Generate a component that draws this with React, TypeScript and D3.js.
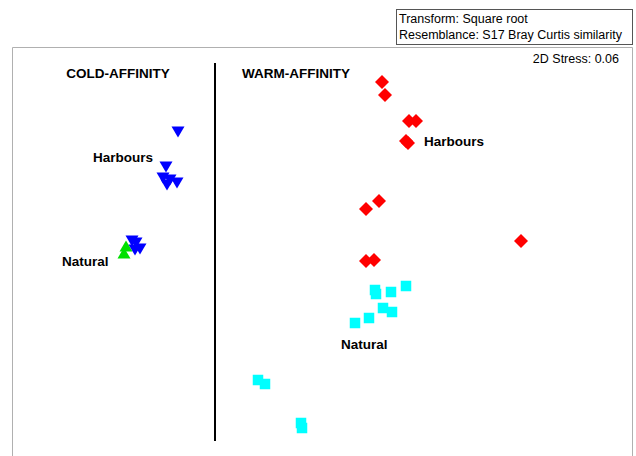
import React from "react";
import * as d3 from "d3";

// MDS coordinates
const coldHarbours: [number, number][] = [
  [-1.42, 1.18], [-1.54, 0.83], [-1.57, 0.72], [-1.5, 0.7], [-1.53, 0.65], [-1.43, 0.67],
];
const coldNaturalBlue: [number, number][] = [
  [-1.88, 0.09], [-1.84, 0.07], [-1.8, 0.01], [-1.85, 0.0],
];
const coldNaturalGreen: [number, number][] = [
  [-1.94, 0.04], [-1.96, -0.03],
];
const warmHarbours: [number, number][] = [
  [0.62, 1.68], [0.65, 1.55], [0.89, 1.29], [0.96, 1.29], [0.86, 1.09], [0.88, 1.07],
  [0.59, 0.49], [0.46, 0.41], [2.01, 0.09], [0.46, -0.11], [0.54, -0.1],
];
const warmNatural: [number, number][] = [
  [0.55, -0.4], [0.56, -0.44], [0.71, -0.42], [0.86, -0.36], [0.63, -0.58], [0.72, -0.62],
  [0.49, -0.68], [0.35, -0.73], [-0.62, -1.3], [-0.55, -1.34], [-0.19, -1.73], [-0.18, -1.78],
];
const legendLines = ["Transform: Square root", "Resemblance: S17 Bray Curtis similarity"];
const stressLabel = "2D Stress: 0.06";
const panelTitles = ["COLD-AFFINITY", "WARM-AFFINITY"];

const W = 636;
const H = 456;

export default function App() {
  const x = d3.scaleLinear().domain([-3.2, 3.16]).range([0, W]);
  const y = d3.scaleLinear().domain([2.5, -2.06]).range([0, H]);
  const font = "Arial, 'Liberation Sans', Helvetica, sans-serif";

  const tri = (d: [number, number], up: boolean, color: string, i: number) => {
    const cx = x(d[0]);
    const cy = y(d[1]);
    const w = 6.5;
    const h = 5.5;
    const pts = up
      ? `${cx - w},${cy + h} ${cx + w},${cy + h} ${cx},${cy - h}`
      : `${cx - w},${cy - h} ${cx + w},${cy - h} ${cx},${cy + h}`;
    return <polygon key={color + i} points={pts} fill={color} />;
  };
  const diamond = (d: [number, number], i: number) => {
    const cx = x(d[0]);
    const cy = y(d[1]);
    const r = 7;
    return (
      <polygon
        key={"r" + i}
        points={`${cx},${cy - r} ${cx + r},${cy} ${cx},${cy + r} ${cx - r},${cy}`}
        fill="#ff0000"
      />
    );
  };
  const square = (d: [number, number], i: number) => {
    const cx = x(d[0]);
    const cy = y(d[1]);
    const s = 10.5;
    return <rect key={"c" + i} x={cx - s / 2} y={cy - s / 2} width={s} height={s} fill="#00ffff" />;
  };

  return (
    <svg
      width={W}
      height={H}
      style={{ position: "absolute", left: 0, top: 0, background: "#fff" }}
      fontFamily={font}
    >
      <rect x={0} y={0} width={W} height={H} fill="#fff" />
      {/* legend box */}
      <rect x={396.5} y={9.5} width={236} height={35} fill="#fff" stroke="#555" strokeWidth={1} />
      {legendLines.map((t, i) => (
        <text key={t} x={399} y={23 + i * 16} fontSize={12.5} fill="#000">
          {t}
        </text>
      ))}
      {/* plot frame */}
      <path d={`M12.5,${H + 2} V47.5 H632.5 V${H + 2}`} fill="none" stroke="#b0b0b0" strokeWidth={1} />
      <text x={619} y={63} fontSize={12.5} textAnchor="end" fill="#000">
        {stressLabel}
      </text>
      {/* divider */}
      <line x1={215} x2={215} y1={63} y2={441} stroke="#000" strokeWidth={2} />
      <text x={118} y={78} fontSize={13.5} fontWeight="bold" textAnchor="middle">
        {panelTitles[0]}
      </text>
      <text x={242} y={78} fontSize={13.5} fontWeight="bold">
        {panelTitles[1]}
      </text>
      <text x={93} y={162} fontSize={13.5} fontWeight="bold">Harbours</text>
      <text x={62} y={266} fontSize={13.5} fontWeight="bold">Natural</text>
      <text x={424} y={146} fontSize={13.5} fontWeight="bold">Harbours</text>
      <text x={341} y={349} fontSize={13.5} fontWeight="bold">Natural</text>

      {coldHarbours.map((d, i) => tri(d, false, "#0000ff", i))}
      {coldNaturalGreen.map((d, i) => tri(d, true, "#00e000", i))}
      {coldNaturalBlue.map((d, i) => tri(d, false, "#0000ff", i + 10))}
      {warmHarbours.map((d, i) => diamond(d, i))}
      {warmNatural.map((d, i) => square(d, i))}
    </svg>
  );
}
